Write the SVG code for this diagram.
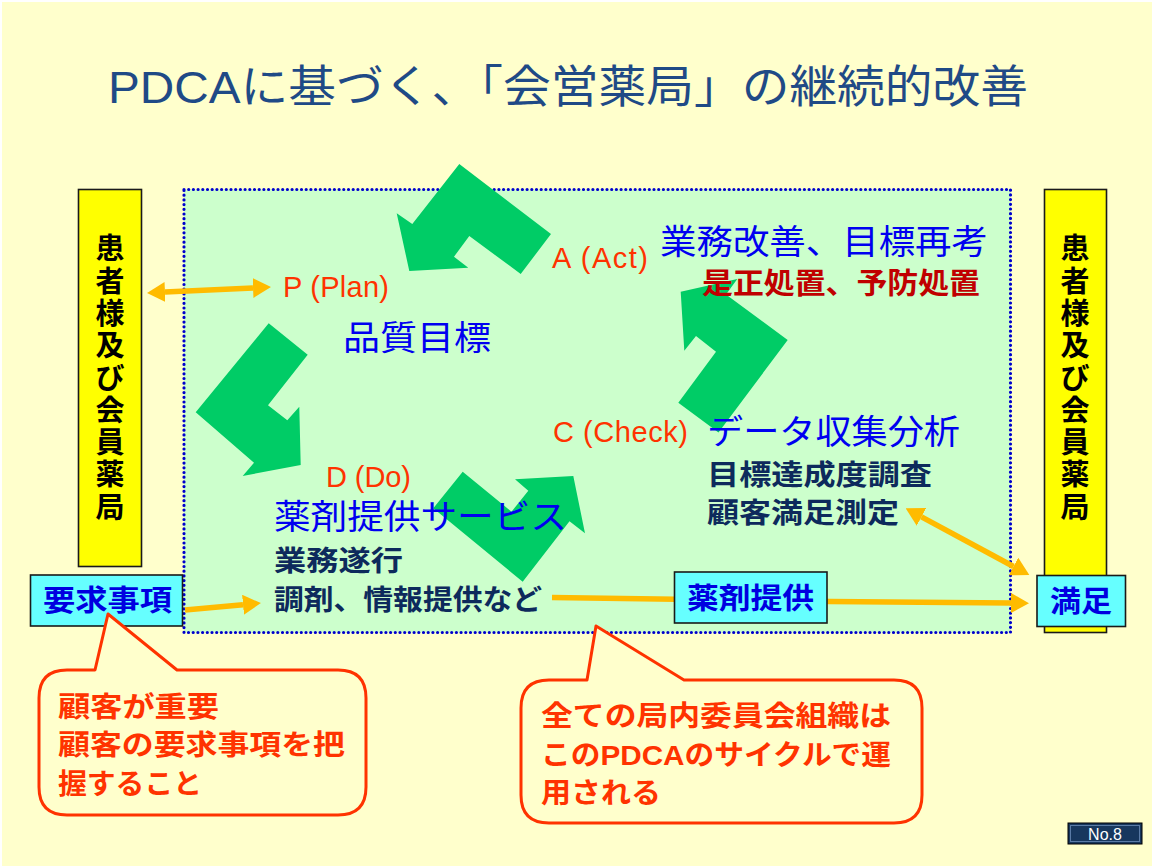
<svg xmlns="http://www.w3.org/2000/svg" width="1152" height="866" viewBox="0 0 1152 866">
<style>
  text { font-family: "Liberation Sans", "Noto Sans CJK JP", sans-serif; }
  .title { font-size: 45px; fill: #1F4A86; }
  .pdca { font-size: 29px; fill: #FF3300; }
  .blue { font-size: 34px; fill: #0000F0; }
  .navy { font-size: 28px; fill: #0D2A5C; font-weight: bold; }
  .dred { font-size: 29px; fill: #C00000; font-weight: bold; }
  .boxt { font-size: 29px; fill: #0000E0; font-weight: bold; }
  .vert { font-size: 29px; fill: #000; font-weight: bold; text-anchor: middle; }
  .call { font-size: 28px; fill: #FF3300; font-weight: bold; }
  .cyanbox { fill: #66FFFF; stroke: #1A1A1A; stroke-width: 1.6; }
  .ybar { fill: #FFFF00; stroke: #1A1A1A; stroke-width: 1.6; }
  .green { fill: #00CC66; }
  .oline { fill: none; stroke: #FFBB00; stroke-width: 5.5; }
  .bubble { fill: #FFFFCC; stroke: #FF3300; stroke-width: 3; stroke-linejoin: round; }
</style>
<defs>
  <marker id="ah" viewBox="0 0 18 20" refX="0" refY="10" markerWidth="18" markerHeight="20" markerUnits="userSpaceOnUse" orient="auto-start-reverse">
    <path d="M0,0 L18,10 L0,20 Z" fill="#FFBB00"/>
  </marker>
</defs>

<rect x="0" y="0" width="1152" height="866" fill="#FFFFFF"/>
<rect x="2" y="2" width="1150" height="864" fill="#FFFFCC"/>

<g id="title">
  <text class="title" x="108" y="103" textLength="920" lengthAdjust="spacingAndGlyphs">PDCAに基づく、「会営薬局」の継続的改善</text>
</g>

<g id="cycle-area">
  <rect x="184" y="189.5" width="826.5" height="443" fill="#CCFFCC" stroke="#0000CC" stroke-width="3.2" stroke-linecap="round" stroke-dasharray="0 4.7"/>
</g>

<g id="left-bar">
  <rect class="ybar" x="78.5" y="189.5" width="63" height="377"/>
  <text class="vert"><tspan x="110" y="259.3">患</tspan><tspan x="110" y="291.6">者</tspan><tspan x="110" y="323.9">様</tspan><tspan x="110" y="356.2">及</tspan><tspan x="110" y="388.5">び</tspan><tspan x="110" y="420.8">会</tspan><tspan x="110" y="453.1">員</tspan><tspan x="110" y="485.4">薬</tspan><tspan x="110" y="517.7">局</tspan></text>
</g>

<g id="right-bar">
  <rect class="ybar" x="1044.5" y="189.5" width="62" height="443"/>
  <text class="vert"><tspan x="1075" y="259.3">患</tspan><tspan x="1075" y="291.6">者</tspan><tspan x="1075" y="323.9">様</tspan><tspan x="1075" y="356.2">及</tspan><tspan x="1075" y="388.5">び</tspan><tspan x="1075" y="420.8">会</tspan><tspan x="1075" y="453.1">員</tspan><tspan x="1075" y="485.4">薬</tspan><tspan x="1075" y="517.7">局</tspan></text>
</g>

<g id="cycle-arrows">
  <polygon class="green" points="459.3,164 551,234 520.7,274 469.3,236 454,256.7 468.3,267.7 409.3,271 396.7,213.3 412.3,224"/>
  <polygon class="green" points="268.7,323.3 307.7,354.7 268,405.3 287.3,420.3 299.3,406.7 300.7,465 242.7,476 254,462.7 195.7,412.3"/>
  <polygon class="green" points="462.7,471.7 511.5,511.7 528.3,490.7 515,479.3 573.3,476 585,533.3 569.5,521.3 522.7,581.7 433.3,508.3"/>
  <polygon class="green" points="680.7,291.7 737.3,279 726,294.4 787.7,340 718.5,432.4 678.3,402.7 716,351.7 696,336 684.3,350.7"/>
</g>

<g id="plan">
  <text class="pdca" x="283" y="297" textLength="106">P (Plan)</text>
  <text class="blue" x="343" y="350" textLength="148" lengthAdjust="spacingAndGlyphs">品質目標</text>
</g>

<g id="do">
  <text class="pdca" x="326" y="487" textLength="85">D (Do)</text>
  <text class="blue" x="274" y="529" textLength="293" lengthAdjust="spacingAndGlyphs">薬剤提供サービス</text>
  <text class="navy" x="274" y="571" textLength="129" lengthAdjust="spacingAndGlyphs">業務遂行</text>
  <text class="navy" x="274" y="610" textLength="268" lengthAdjust="spacingAndGlyphs">調剤、情報提供など</text>
</g>

<g id="check">
  <text class="pdca" x="553" y="442" textLength="135">C (Check)</text>
  <text class="blue" x="707" y="444" textLength="253" lengthAdjust="spacingAndGlyphs">データ収集分析</text>
  <text class="navy" x="707" y="485" textLength="225" lengthAdjust="spacingAndGlyphs">目標達成度調査</text>
  <text class="navy" x="707" y="523" textLength="192" lengthAdjust="spacingAndGlyphs">顧客満足測定</text>
</g>

<g id="act">
  <text class="pdca" x="552" y="268" textLength="96">A (Act)</text>
  <text class="blue" x="660" y="254" textLength="328" lengthAdjust="spacingAndGlyphs">業務改善、目標再考</text>
  <text class="dred" x="702" y="294" textLength="278" lengthAdjust="spacingAndGlyphs">是正処置、予防処置</text>
</g>

<g id="connectors">
  <line class="oline" x1="165" y1="292.1" x2="253" y2="287.9" marker-start="url(#ah)" marker-end="url(#ah)"/>
  <line class="oline" x1="185" y1="610" x2="243" y2="604.7" marker-end="url(#ah)"/>
  <polyline class="oline" points="552,597.5 830,601.5 1011,603" marker-end="url(#ah)"/>
  <line class="oline" x1="921.5" y1="516.9" x2="1013.5" y2="566.5" marker-start="url(#ah)" marker-end="url(#ah)"/>
</g>

<g id="req-box">
  <rect class="cyanbox" x="30.5" y="575" width="152" height="51"/>
  <text class="boxt" x="43" y="611" textLength="129" lengthAdjust="spacingAndGlyphs">要求事項</text>
</g>

<g id="supply-box">
  <rect class="cyanbox" x="674.5" y="572" width="152.5" height="51"/>
  <text class="boxt" x="687" y="609" textLength="127" lengthAdjust="spacingAndGlyphs">薬剤提供</text>
</g>

<g id="satisfy-box">
  <rect class="cyanbox" x="1037" y="575.5" width="88.5" height="51"/>
  <text class="boxt" x="1050" y="612" textLength="62" lengthAdjust="spacingAndGlyphs">満足</text>
</g>

<g id="callout-left">
  <path class="bubble" d="M67,670 L95,670 L108,614 L177,670 L338,670 Q366,670 366,698 L366,787 Q366,815 338,815 L67,815 Q39,815 39,787 L39,698 Q39,670 67,670 Z"/>
  <text class="call" x="58" y="717" textLength="161" lengthAdjust="spacingAndGlyphs">顧客が重要</text>
  <text class="call" x="58" y="755" textLength="287" lengthAdjust="spacingAndGlyphs">顧客の要求事項を把</text>
  <text class="call" x="58" y="794" textLength="144" lengthAdjust="spacingAndGlyphs">握すること</text>
</g>

<g id="callout-right">
  <path class="bubble" d="M549,680 L587,680 L596,626 L684,680 L894,680 Q922,680 922,708 L922,795 Q922,823 894,823 L549,823 Q521,823 521,795 L521,708 Q521,680 549,680 Z"/>
  <text class="call" x="541" y="726" textLength="350" lengthAdjust="spacingAndGlyphs">全ての局内委員会組織は</text>
  <text class="call" x="541" y="765" textLength="350" lengthAdjust="spacingAndGlyphs">このPDCAのサイクルで運</text>
  <text class="call" x="541" y="803" textLength="120" lengthAdjust="spacingAndGlyphs">用される</text>
</g>

<g id="page-no">
  <rect x="1068" y="823" width="74" height="21" fill="#17375E" stroke="#000" stroke-width="1"/>
  <rect x="1070.5" y="825.5" width="69" height="16" fill="#17375E" stroke="#5A7BA6" stroke-width="1"/>
  <text x="1105" y="840" font-size="16" fill="#FFFFFF" text-anchor="middle">No.8</text>
</g>
</svg>
